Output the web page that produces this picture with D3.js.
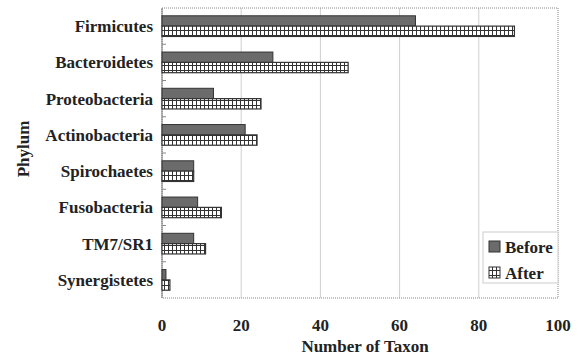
<!DOCTYPE html>
<html><head><meta charset="utf-8">
<script src="https://cdn.jsdelivr.net/npm/d3@7"></script>
<style>body{margin:0;background:#fff}</style>
</head><body>
<script>
const categories = ["Firmicutes","Bacteroidetes","Proteobacteria","Actinobacteria","Spirochaetes","Fusobacteria","TM7/SR1","Synergistetes"];
const before = [64,28,13,21,8,9,8,1];
const after = [89,47,25,24,8,15,11,2];
const seriesNames = ["Before","After"];
const xTicks = [0,20,40,60,80,100];

const W=578,H=355;
const m={l:162,r:20,t:8,b:57};
const svg=d3.select("body").append("svg").attr("width",W).attr("height",H);
const font="'Liberation Serif','Times New Roman',serif";
const fs=17;
const defs=svg.append("defs");
const pat=defs.append("pattern").attr("id","grid").attr("patternUnits","userSpaceOnUse")
 .attr("width",4).attr("height",5);
pat.append("rect").attr("width",4).attr("height",5).attr("fill","#fff");
pat.append("path").attr("d","M0,0.5H4M0.5,0V5").attr("stroke","#333").attr("stroke-width",1);

const x=d3.scaleLinear().domain([0,100]).range([m.l,W-m.r]);
const y=d3.scaleBand().domain(categories).range([m.t,H-m.b]).paddingInner(0.43).paddingOuter(0.215);
const yb=d3.scaleBand().domain(seriesNames).range([0,y.bandwidth()]);
const yOuter=d3.scaleBand().domain(categories).range([m.t,H-m.b]);

svg.append("g").selectAll("line").data(xTicks.slice(1,-1)).join("line")
 .attr("x1",d=>x(d)).attr("x2",d=>x(d)).attr("y1",m.t).attr("y2",H-m.b)
 .attr("stroke","#cfcfcf").attr("stroke-width",1);
svg.append("rect").attr("x",m.l).attr("y",m.t).attr("width",W-m.r-m.l).attr("height",H-m.b-m.t)
 .attr("fill","none").attr("stroke","#888").attr("stroke-dasharray","1,1");
svg.append("line").attr("x1",m.l).attr("x2",m.l).attr("y1",m.t).attr("y2",H-m.b).attr("stroke","#777");
svg.append("g").selectAll("line").data(categories.slice(1)).join("line")
 .attr("x1",m.l).attr("x2",m.l+4).attr("y1",d=>yOuter(d)).attr("y2",d=>yOuter(d))
 .attr("stroke","#888");

const g=svg.append("g");
categories.forEach((c,i)=>{
  g.append("rect").attr("x",x(0)).attr("y",y(c)+yb("Before")).attr("width",x(before[i])-x(0))
   .attr("height",yb.bandwidth()).attr("fill","#6b6b6b").attr("stroke","#333").attr("stroke-width",1);
  g.append("rect").attr("x",x(0)).attr("y",y(c)+yb("After")).attr("width",x(after[i])-x(0))
   .attr("height",yb.bandwidth()).attr("fill","url(#grid)").attr("stroke","#333").attr("stroke-width",1.2);
});

svg.append("g").selectAll("text").data(categories).join("text")
 .attr("x",m.l-9).attr("y",d=>yOuter(d)+yOuter.bandwidth()/2+6)
 .attr("text-anchor","end").attr("font-family",font).attr("font-weight","bold").attr("font-size",fs)
 .attr("fill","#222").text(d=>d);
svg.append("g").selectAll("text").data(xTicks).join("text")
 .attr("x",d=>x(d)).attr("y",331).attr("text-anchor","middle")
 .attr("font-family",font).attr("font-weight","bold").attr("font-size",fs).attr("fill","#222").text(d=>d);
svg.append("text").attr("x",365).attr("y",352).attr("text-anchor","middle")
 .attr("font-family",font).attr("font-weight","bold").attr("font-size",fs).attr("fill","#222").text("Number of Taxon");
svg.append("text").attr("transform","translate(29,149) rotate(-90)").attr("text-anchor","middle")
 .attr("font-family",font).attr("font-weight","bold").attr("font-size",fs).attr("fill","#222").text("Phylum");

const lg=svg.append("g");
lg.append("rect").attr("x",483).attr("y",232).attr("width",W-m.r-483).attr("height",51)
 .attr("fill","#fff").attr("stroke","#ccc");
seriesNames.forEach((s,i)=>{
  const yy=241+i*26;
  lg.append("rect").attr("x",489).attr("y",yy).attr("width",11).attr("height",11)
   .attr("fill",i==0?"#6b6b6b":"url(#grid)").attr("stroke","#333");
  lg.append("text").attr("x",505).attr("y",yy+12).attr("font-family",font).attr("font-weight","bold")
   .attr("font-size",fs).attr("fill","#222").text(s);
});
</script>
</body></html>
